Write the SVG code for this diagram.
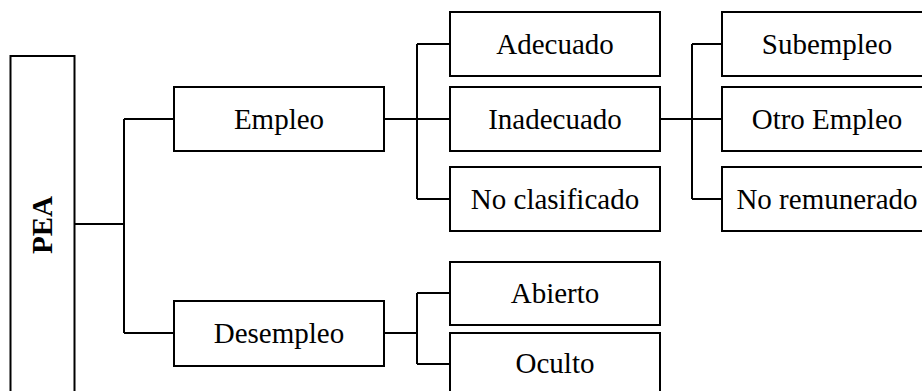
<svg xmlns="http://www.w3.org/2000/svg" width="922" height="391" viewBox="0 0 922 391">
<style>
.box{fill:#fff;stroke:#000;stroke-width:2}
.t{font-family:"Liberation Serif","Times New Roman",serif;font-size:29px;fill:#000;text-anchor:middle}
.b{font-weight:bold}
.c{fill:none;stroke:#000;stroke-width:2}
</style>
<rect width="922" height="391" fill="#fff"/>
<g id="connectors">
<path class="c" d="M74,224 H124 M124,119 V333 M124,119 H174 M124,333 H174"/>
<path class="c" d="M384,119 H417 M417,44 V199 M417,44 H450 M417,119 H450 M417,199 H450"/>
<path class="c" d="M660,119 H692 M692,44 V199 M692,44 H722 M692,119 H722 M692,199 H722"/>
<path class="c" d="M384,333 H417 M417,293 V364 M417,293 H450 M417,364 H450"/>
</g>
<g id="pea"><rect class="box" x="10.5" y="56" width="64" height="345"/><text class="t b" transform="translate(52,225) rotate(-90)">PEA</text></g>
<g id="empleo"><rect class="box" x="174" y="87" width="210" height="64"/><text class="t" x="279" y="128.5">Empleo</text></g>
<g id="desempleo"><rect class="box" x="174" y="301" width="210" height="65"/><text class="t" x="279" y="343">Desempleo</text></g>
<g id="adecuado"><rect class="box" x="450" y="12" width="210" height="64"/><text class="t" x="555" y="53.5">Adecuado</text></g>
<g id="inadecuado"><rect class="box" x="450" y="87" width="210" height="64"/><text class="t" x="555" y="128.5">Inadecuado</text></g>
<g id="noclasificado"><rect class="box" x="450" y="167" width="210" height="64"/><text class="t" x="555" y="208.5">No clasificado</text></g>
<g id="subempleo"><rect class="box" x="722" y="12" width="210" height="64"/><text class="t" x="827" y="53.5">Subempleo</text></g>
<g id="otroempleo"><rect class="box" x="722" y="87" width="210" height="64"/><text class="t" x="827" y="128.5">Otro Empleo</text></g>
<g id="noremunerado"><rect class="box" x="722" y="167" width="210" height="64"/><text class="t" x="827" y="208.5">No remunerado</text></g>
<g id="abierto"><rect class="box" x="450" y="262" width="210" height="63"/><text class="t" x="555" y="303">Abierto</text></g>
<g id="oculto"><rect class="box" x="450" y="333" width="210" height="64"/><text class="t" x="555" y="373">Oculto</text></g>
</svg>
